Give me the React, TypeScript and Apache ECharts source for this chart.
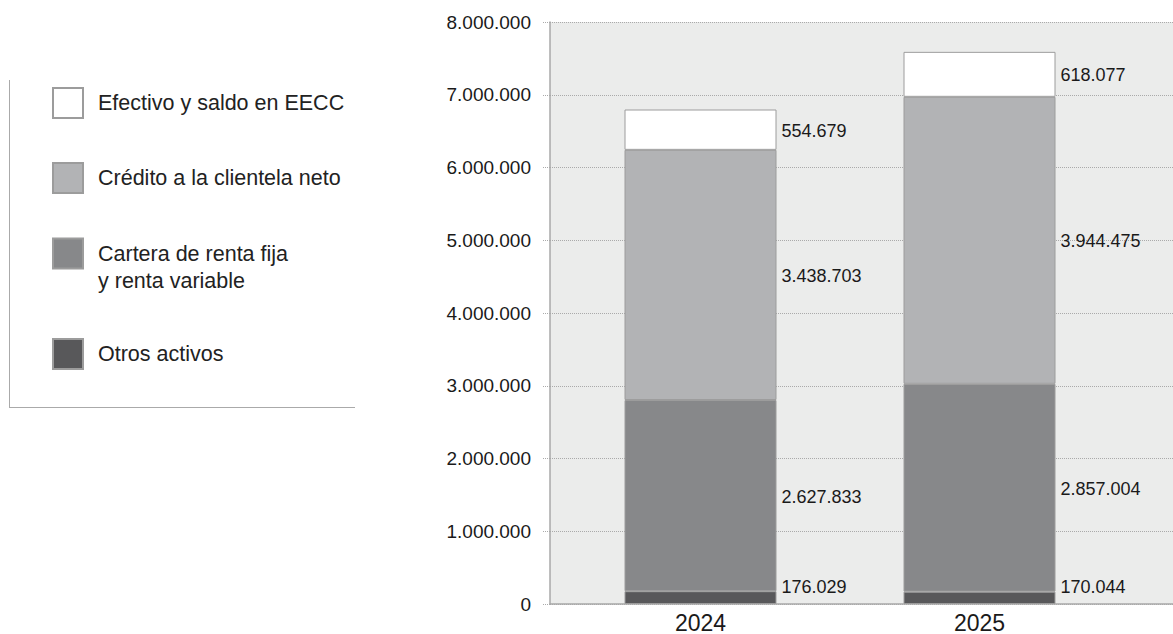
import React, { useEffect, useRef } from "react";
import * as echarts from "echarts";

const years = ["2024", "2025"];
const seriesNames = [
  "Otros activos",
  "Cartera de renta fija y renta variable",
  "Crédito a la clientela neto",
  "Efectivo y saldo en EECC",
];
const otrosActivos = [176029, 170044];
const carteraRenta = [2627833, 2857004];
const creditoClientela = [3438703, 3944475];
const efectivoSaldo = [554679, 618077];
const yTicks = [0, 1000000, 2000000, 3000000, 4000000, 5000000, 6000000, 7000000, 8000000];

const colors = ["#58585a", "#87888a", "#b2b3b5", "#ffffff"];
const FONT = "Liberation Sans, Arial, Helvetica, sans-serif";
const TXT = "#1a1a1a";

const fmt = (v: number) => String(Math.round(v)).replace(/\B(?=(\d{3})+(?!\d))/g, ".");

export default function App() {
  const ref = useRef<HTMLDivElement>(null);
  useEffect(() => {
    if (!ref.current) return;
    const chart = echarts.init(ref.current, undefined, { renderer: "svg" });
    const dataSets = [otrosActivos, carteraRenta, creditoClientela, efectivoSaldo];
    const series = dataSets.map((d, i) => ({
      name: seriesNames[i],
      type: "bar",
      stack: "total",
      xAxisIndex: 1,
      yAxisIndex: 1,
      barWidth: 152,
      data: d,
      itemStyle: { color: colors[i], borderColor: "#9c9c9c", borderWidth: 1 },
      label: {
        show: true,
        position: "right",
        distance: 5,
        offset: i === 0 ? [0, -11] : [0, 1],
        formatter: (p: any) => fmt(p.value),
        fontFamily: FONT,
        fontSize: 18,
        color: TXT,
      },
    }));
    const legendTops = [87, 162, 213, 338];
    const legendOrder = [3, 2, 1, 0];
    const legends = legendOrder.map((si, k) => ({
      data: [seriesNames[si]],
      left: 52,
      top: legendTops[k],
      orient: "vertical",
      padding: 0,
      itemWidth: 30,
      itemHeight: 30,
      icon: "rect",
      selectedMode: false,
      formatter: (n: string) =>
        n === "Cartera de renta fija y renta variable"
          ? "\u00a0\nCartera de renta fija\ny renta variable"
          : n,
      textStyle: {
        fontFamily: FONT,
        fontSize: 21.5,
        color: "#222222",
        lineHeight: 27,
        padding: [0, 0, 0, 10],
      },
    }));
    chart.setOption({
      animation: false,
      backgroundColor: "#ffffff",
      grid: [
        { left: 550, top: 22, right: -10, bottom: 30, show: true, backgroundColor: "#ebeceb", borderWidth: 0 },
        { left: 561, width: 558, top: 22, bottom: 30 },
      ],
      legend: legends,
      xAxis: [
        {
          gridIndex: 0,
          type: "category",
          data: years,
          position: "top",
          axisLine: { show: true, lineStyle: { color: "#a8a8a8", width: 1.5 } },
          axisTick: { show: false },
          axisLabel: { show: false },
        },
        {
          gridIndex: 1,
          type: "category",
          data: years,
          axisLine: { show: false },
          axisTick: { show: false },
          axisLabel: { fontFamily: FONT, fontSize: 23, color: TXT, margin: 7 },
        },
      ],
      yAxis: [
        {
          gridIndex: 0,
          type: "value",
          min: yTicks[0],
          max: yTicks[yTicks.length - 1],
          interval: yTicks[1] - yTicks[0],
          axisLine: { show: true, lineStyle: { color: "#a8a8a8", width: 1.5 } },
          axisTick: { show: true, length: 8, lineStyle: { color: "#aaaaaa", type: "dotted" } },
          splitLine: { show: true, lineStyle: { color: "#aaaaaa", type: "dotted" } },
          axisLabel: { fontFamily: FONT, fontSize: 19, color: TXT, margin: 19, formatter: (v: number) => fmt(v) },
        },
        {
          gridIndex: 1,
          type: "value",
          min: yTicks[0],
          max: yTicks[yTicks.length - 1],
          interval: yTicks[1] - yTicks[0],
          show: false,
          splitLine: { show: false },
        },
      ],
      graphic: [
        { type: "line", shape: { x1: 9.5, y1: 80, x2: 9.5, y2: 407 }, style: { stroke: "#aaaaaa", lineWidth: 1 } },
        { type: "line", shape: { x1: 9, y1: 407.5, x2: 355, y2: 407.5 }, style: { stroke: "#aaaaaa", lineWidth: 1 } },
      ],
      series,
    });
    return () => chart.dispose();
  }, []);
  return <div ref={ref} style={{ position: "absolute", left: 0, top: 0, width: 1173, height: 634 }} />;
}
